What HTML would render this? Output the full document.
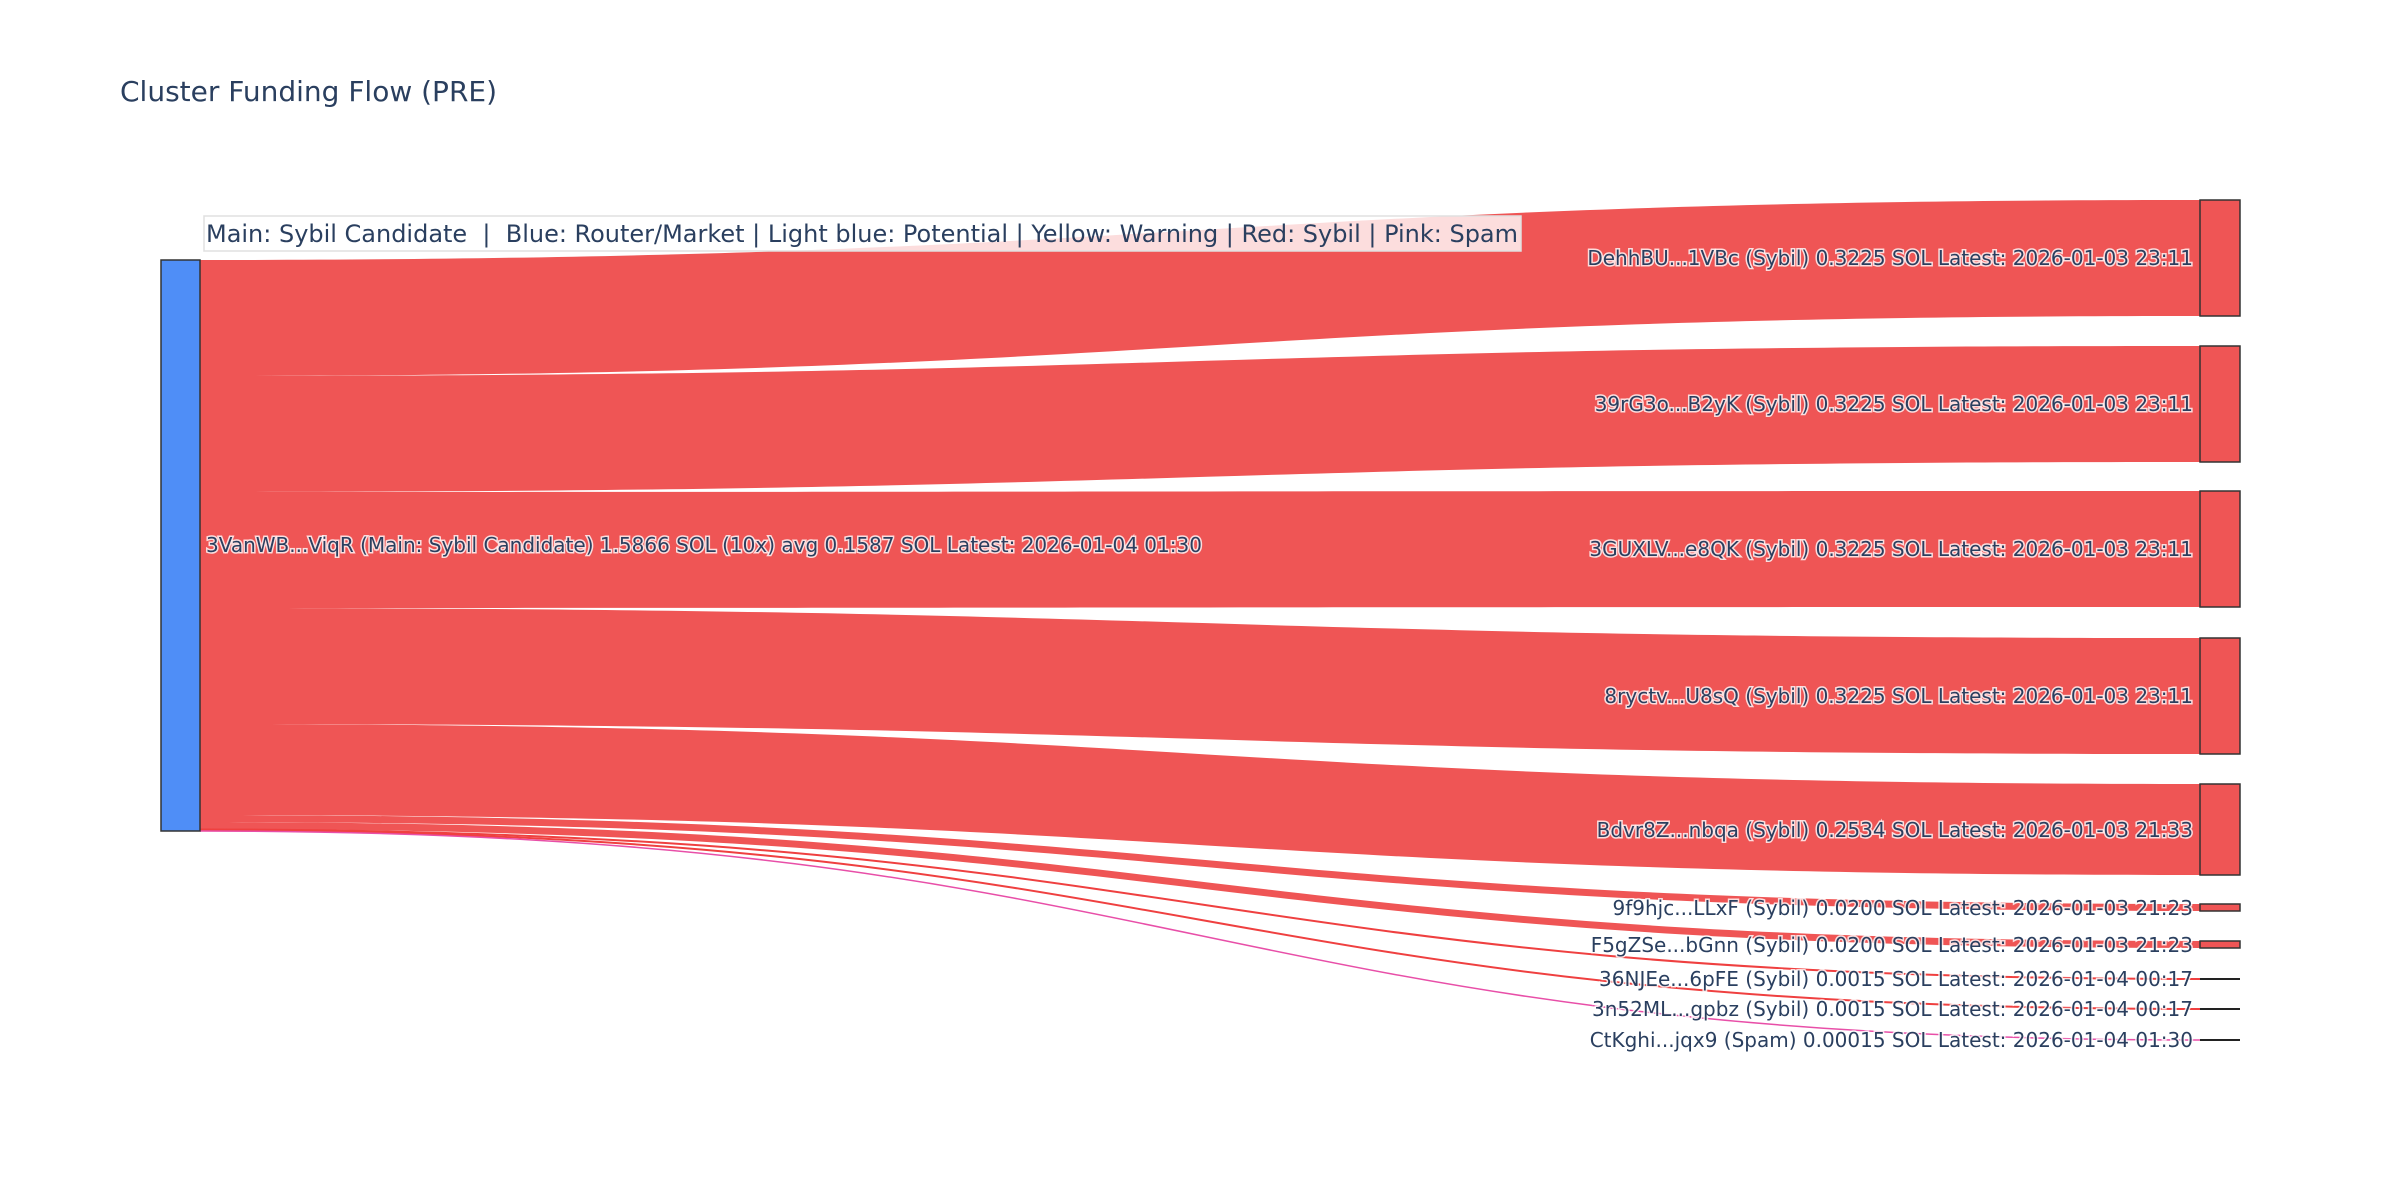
<!DOCTYPE html>
<html><head><meta charset="utf-8"><style>
html,body{margin:0;padding:0;background:#fff;}
svg{display:block;}
.lbl{font-family:"DejaVu Sans","Liberation Sans",sans-serif;font-size:20px;fill:#2a3f5f;paint-order:stroke;stroke:#fff;stroke-width:3px;stroke-opacity:0.8;}
</style></head><body>
<svg width="2400" height="1200" viewBox="0 0 2400 1200" xmlns="http://www.w3.org/2000/svg">
<rect width="2400" height="1200" fill="#fff"/>
<text x="120" y="101" font-family="DejaVu Sans, Liberation Sans, sans-serif" font-size="28" fill="#2a3f5f">Cluster Funding Flow (PRE)</text>
<g fill="#ef5555" stroke="none">
<path d="M200,260 C1200,260 1200,200 2200,200 L2200,316 C1200,316 1200,376 200,376 Z"/>
<path d="M200,376 C1200,376 1200,346 2200,346 L2200,462 C1200,462 1200,492 200,492 Z"/>
<path d="M200,492 C1200,492 1200,491 2200,491 L2200,607 C1200,607 1200,608 200,608 Z"/>
<path d="M200,608 C1200,608 1200,638 2200,638 L2200,754 C1200,754 1200,724 200,724 Z"/>
<path d="M200,724 C1200,724 1200,784 2200,784 L2200,875 C1200,875 1200,815 200,815 Z"/>
<path d="M200,815 C1200,815 1200,904 2200,904 L2200,911 C1200,911 1200,822 200,822 Z"/>
<path d="M200,822 C1200,822 1200,941 2200,941 L2200,948 C1200,948 1200,829 200,829 Z"/>
</g>
<g fill="none" stroke-width="2">
<path d="M200,829.5 C1200,829.5 1200,979 2200,979" stroke="#ef4040"/>
<path d="M200,830.5 C1200,830.5 1200,1009 2200,1009" stroke="#ef4040"/>
<path d="M200,831 C1200,831 1200,1040 2200,1040" stroke="#e84fa8" stroke-width="1.5"/>
</g>
<rect x="161" y="260" width="39" height="571" fill="#4f8ef7" stroke="#333" stroke-width="1.5"/>
<g fill="#ef5555" stroke="#333" stroke-width="1.5">
<rect x="2200" y="200" width="40" height="116"/>
<rect x="2200" y="346" width="40" height="116"/>
<rect x="2200" y="491" width="40" height="116"/>
<rect x="2200" y="638" width="40" height="116"/>
<rect x="2200" y="784" width="40" height="91"/>
<rect x="2200" y="904" width="40" height="7"/>
<rect x="2200" y="941" width="40" height="7"/>
</g>
<g stroke="#222" stroke-width="2">
<line x1="2200" y1="979" x2="2240" y2="979"/>
<line x1="2200" y1="1009" x2="2240" y2="1009"/>
<line x1="2200" y1="1040" x2="2240" y2="1040"/>
</g>
<rect x="204" y="216" width="1317" height="35" fill="#fff" fill-opacity="0.8" stroke="#e0e0e0" stroke-width="1.5"/>
<text x="206" y="242" font-family="DejaVu Sans, Liberation Sans, sans-serif" font-size="24" fill="#2a3f5f" textLength="1312" lengthAdjust="spacingAndGlyphs" xml:space="preserve">Main: Sybil Candidate  |  Blue: Router/Market | Light blue: Potential | Yellow: Warning | Red: Sybil | Pink: Spam</text>
<text class="lbl" x="206" y="552">3VanWB...ViqR (Main: Sybil Candidate) 1.5866 SOL (10x) avg 0.1587 SOL Latest: 2026-01-04 01:30</text>
<g class="lbl" text-anchor="end">
<text class="lbl" x="2193" y="265">DehhBU...1VBc (Sybil) 0.3225 SOL Latest: 2026-01-03 23:11</text>
<text class="lbl" x="2193" y="411">39rG3o...B2yK (Sybil) 0.3225 SOL Latest: 2026-01-03 23:11</text>
<text class="lbl" x="2193" y="556">3GUXLV...e8QK (Sybil) 0.3225 SOL Latest: 2026-01-03 23:11</text>
<text class="lbl" x="2193" y="703">8ryctv...U8sQ (Sybil) 0.3225 SOL Latest: 2026-01-03 23:11</text>
<text class="lbl" x="2193" y="837">Bdvr8Z...nbqa (Sybil) 0.2534 SOL Latest: 2026-01-03 21:33</text>
<text class="lbl" x="2193" y="915">9f9hjc...LLxF (Sybil) 0.0200 SOL Latest: 2026-01-03 21:23</text>
<text class="lbl" x="2193" y="952">F5gZSe...bGnn (Sybil) 0.0200 SOL Latest: 2026-01-03 21:23</text>
<text class="lbl" x="2193" y="986">36NJEe...6pFE (Sybil) 0.0015 SOL Latest: 2026-01-04 00:17</text>
<text class="lbl" x="2193" y="1016">3n52ML...gpbz (Sybil) 0.0015 SOL Latest: 2026-01-04 00:17</text>
<text class="lbl" x="2193" y="1047">CtKghi...jqx9 (Spam) 0.00015 SOL Latest: 2026-01-04 01:30</text>
</g>
</svg>
</body></html>
